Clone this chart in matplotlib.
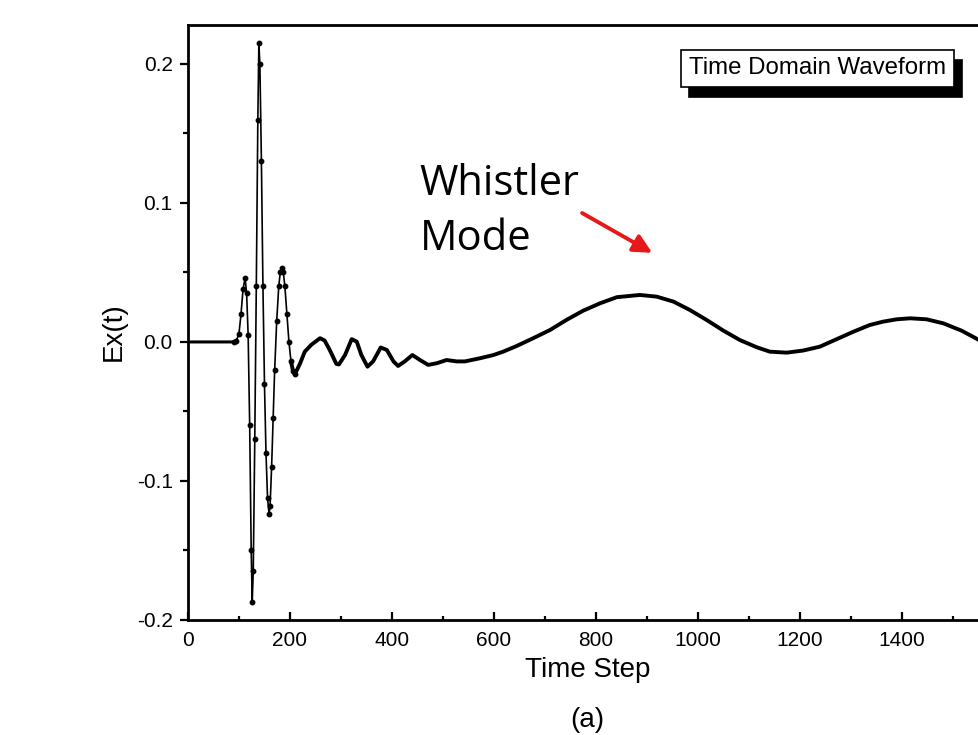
import numpy as np
import matplotlib.pyplot as plt
from matplotlib import transforms

# ============================
# DATOS
# ============================
paso = [0, 90, 95, 100, 104, 108, 112, 115, 118, 121, 124, 126, 128, 131, 134,
        137, 139, 141, 144, 147, 150, 153, 156, 159, 161, 164, 167, 170, 174,
        178, 181, 184, 187, 190, 194, 198, 202, 206, 209, 214, 220, 229, 242,
        259, 268, 278, 291, 296, 308, 321, 331, 340, 352, 363, 378, 390, 403,
        412, 425, 440, 455, 471, 488, 507, 527, 543, 573, 599, 618, 644, 677,
        710, 742, 775, 808, 841, 886, 919, 952, 984, 1017, 1050, 1082, 1115,
        1141, 1174, 1206, 1239, 1272, 1305, 1337, 1363, 1390, 1416, 1448, 1481,
        1517, 1551, 1580]
ex = [0.0, 0.0, 0.001, 0.006, 0.020, 0.038, 0.046, 0.035, 0.005, -0.060,
      -0.150, -0.187, -0.165, -0.070, 0.040, 0.160, 0.215, 0.200, 0.130, 0.040,
      -0.030, -0.080, -0.112, -0.124, -0.118, -0.090, -0.055, -0.020, 0.015,
      0.040, 0.050, 0.053, 0.050, 0.040, 0.020, 0.000, -0.014, -0.021, -0.023,
      -0.020, -0.0153, -0.007, -0.002, 0.0027, 0.001, -0.0058, -0.0158,
      -0.0162, -0.0094, 0.002, 0.0002, -0.0094, -0.0178, -0.014, -0.004,
      -0.0058, -0.014, -0.0173, -0.014, -0.0094, -0.013, -0.0165, -0.0153,
      -0.013, -0.014, -0.014, -0.0117, -0.0094, -0.007, -0.003, 0.0027, 0.0086,
      0.0158, 0.0225, 0.0278, 0.0322, 0.0338, 0.0326, 0.029, 0.023, 0.0158,
      0.0081, 0.0014, -0.0038, -0.007, -0.0077, -0.0062, -0.0034, 0.002,
      0.0074, 0.0122, 0.0146, 0.0163, 0.017, 0.0163, 0.0134, 0.0081, 0.0014,
      -0.004]

xticks = [0, 200, 400, 600, 800, 1000, 1200, 1400]
yticks = [-0.2, -0.1, 0.0, 0.1, 0.2]

paso = np.array(paso)
ex = np.array(ex)

# ============================
# GRAFICO
# ============================
plt.rcParams['font.family'] = ['Liberation Sans', 'DejaVu Sans']

fig = plt.figure(figsize=(9.79, 7.35), dpi=100)
# el eje derecho queda fuera del lienzo (figura recortada)
ax = fig.add_axes([0.192, 0.1565, 0.8335, 0.8095])

plano = paso <= 95
pulso = (paso >= 90) & (paso <= 212)
tarde = paso >= 200
ax.plot(paso, ex, color='black', lw=1.2)
ax.plot(paso[plano], ex[plano], color='black', lw=2.2)
ax.plot(paso[tarde], ex[tarde], color='black', lw=2.8,
        solid_capstyle='round', solid_joinstyle='round')
ax.plot(paso[pulso], ex[pulso], 'o', color='black', ms=3.2)

ax.set_xlim(0, 1600)
ax.set_ylim(-0.2, 0.228)
ax.set_xticks(xticks)
ax.set_xticks(np.arange(100, 1600, 200), minor=True)
ax.set_yticks(yticks)
ax.set_yticks([-0.15, -0.05, 0.05, 0.15], minor=True)
ax.set_yticklabels([f"{v:.1f}" for v in yticks])

for s in ax.spines.values():
    s.set_linewidth(2)
ax.tick_params(axis='x', which='major', direction='in', length=6, width=1.6,
               labelsize=15, pad=8)
ax.tick_params(axis='x', which='minor', direction='in', length=3, width=1.6)
ax.tick_params(axis='y', which='major', direction='out', length=6, width=1.6,
               labelsize=15, pad=5)
ax.tick_params(axis='y', which='minor', direction='out', length=3.5, width=1.6)

ax.set_xlabel("Time Step", fontsize=20)
ax.xaxis.set_label_coords(0.49, -0.062)
ax.set_ylabel("Ex(t)", fontsize=20)
ax.yaxis.set_label_coords(-0.075, 0.484)

# caja "Time Domain Waveform" con sombra
sombra = transforms.offset_copy(ax.transAxes, fig=fig, x=8, y=-10, units='dots')
caja = dict(boxstyle='square,pad=0.32', lw=1.2)
ax.text(0.614, 0.927, "Time Domain Waveform", transform=sombra, fontsize=17.3,
        va='center', ha='left', color='black',
        bbox=dict(caja, facecolor='black', edgecolor='black'))
ax.text(0.614, 0.927, "Time Domain Waveform", transform=ax.transAxes,
        fontsize=17.3, va='center', ha='left', color='black',
        bbox=dict(caja, facecolor='white', edgecolor='black'))

# anotacion
ax.text(0.284, 0.768, "Whistler\nMode", transform=ax.transAxes, fontsize=30,
        family=['Open Sans', 'DejaVu Sans'], va='top', ha='left',
        linespacing=1.4)
ax.annotate("", xy=(0.569, 0.617), xytext=(0.483, 0.684),
            xycoords='axes fraction', textcoords='axes fraction',
            arrowprops=dict(arrowstyle='-|>', color='#e81818', lw=2.8,
                            mutation_scale=28, shrinkA=0, shrinkB=0))

fig.text(0.5996, 0.021, "(a)", fontsize=20, ha='center', va='center')

fig.savefig("out.png", dpi=100)
